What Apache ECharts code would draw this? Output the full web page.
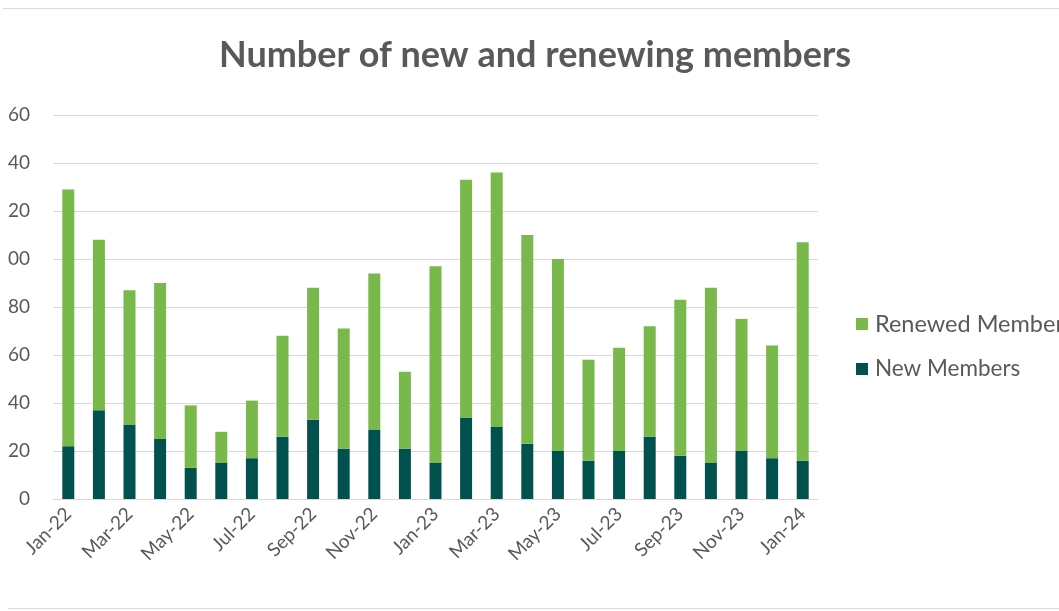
<!DOCTYPE html>
<html>
<head>
<meta charset="utf-8">
<script src="https://cdn.jsdelivr.net/npm/echarts@6/dist/echarts.min.js"></script>
<style>
  html, body { margin: 0; padding: 0; background: #ffffff; }
  #chart { width: 1059px; height: 611px; }
</style>
</head>
<body>
<div id="chart"></div>
<script>
const categories = ['Jan-22','Feb-22','Mar-22','Apr-22','May-22','Jun-22','Jul-22','Aug-22','Sep-22','Oct-22','Nov-22','Dec-22',
  'Jan-23','Feb-23','Mar-23','Apr-23','May-23','Jun-23','Jul-23','Aug-23','Sep-23','Oct-23','Nov-23','Dec-23','Jan-24'];
const newMembers = [22, 37, 31, 25, 13, 15, 17, 26, 33, 21, 29, 21, 15, 34, 30, 23, 20, 16, 20, 26, 18, 15, 20, 17, 16];
const renewedMembers = [107, 71, 56, 65, 26, 13, 24, 42, 55, 50, 65, 32, 82, 99, 106, 87, 80, 42, 43, 46, 65, 73, 55, 47, 91];
// Tick labels as visible in the (left-cropped) picture
const yTickLabels = ['0', '20', '40', '60', '80', '00', '20', '40', '60'];
const seriesNames = ['New Members', 'Renewed Members'];
const titleText = 'Number of new and renewing members';

const chart = echarts.init(document.getElementById('chart'), null, { renderer: 'canvas' });
const FONT = 'Lato';
const TXT = '#595959';

chart.setOption({
  backgroundColor: '#ffffff',
  animation: false,
  title: {
    text: titleText,
    left: 219,
    top: 37,
    padding: 0,
    textStyle: { fontFamily: FONT, fontSize: 36, fontWeight: 'bold', color: TXT }
  },
  legend: {
    orient: 'vertical',
    left: 856,
    top: 311,
    padding: 0,
    itemWidth: 12,
    itemHeight: 12,
    itemGap: 19,
    icon: 'rect',
    data: [
      { name: seriesNames[1], textStyle: { fontSize: 23.5 } },
      { name: seriesNames[0] }
    ],
    textStyle: { fontFamily: FONT, fontSize: 22.5, color: TXT, lineHeight: 26, padding: [0, 0, 0, 2] }
  },
  graphic: [
    { type: 'line', shape: { x1: 3, y1: 8.5, x2: 1059, y2: 8.5 }, style: { stroke: '#d9d9d9', lineWidth: 1 } },
    { type: 'line', shape: { x1: 8, y1: 608.5, x2: 1059, y2: 608.5 }, style: { stroke: '#d9d9d9', lineWidth: 1 } }
  ],
  grid: { left: 53, right: 241, top: 115, bottom: 112, containLabel: false },
  xAxis: {
    type: 'category',
    data: categories,
    axisLine: { show: true, lineStyle: { color: '#d9d9d9', width: 1 } },
    axisTick: { show: false },
    axisLabel: {
      interval: 1,
      rotate: 45,
      margin: 12,
      fontFamily: FONT,
      fontSize: 19,
      color: TXT
    }
  },
  yAxis: {
    type: 'value',
    min: 0,
    max: 160,
    interval: 20,
    axisLine: { show: false },
    axisTick: { show: false },
    splitLine: { lineStyle: { color: '#d9d9d9', width: 1 } },
    axisLabel: {
      margin: 23,
      fontFamily: FONT,
      fontSize: 19,
      color: TXT,
      formatter: function (v) { return yTickLabels[Math.round(v / 20)]; }
    }
  },
  series: [
    {
      name: seriesNames[0],
      type: 'bar',
      stack: 'total',
      barWidth: 12,
      data: newMembers,
      itemStyle: { color: '#01524f' }
    },
    {
      name: seriesNames[1],
      type: 'bar',
      stack: 'total',
      barWidth: 12,
      data: renewedMembers,
      itemStyle: { color: '#79b84a' }
    }
  ]
});
</script>
</body>
</html>
